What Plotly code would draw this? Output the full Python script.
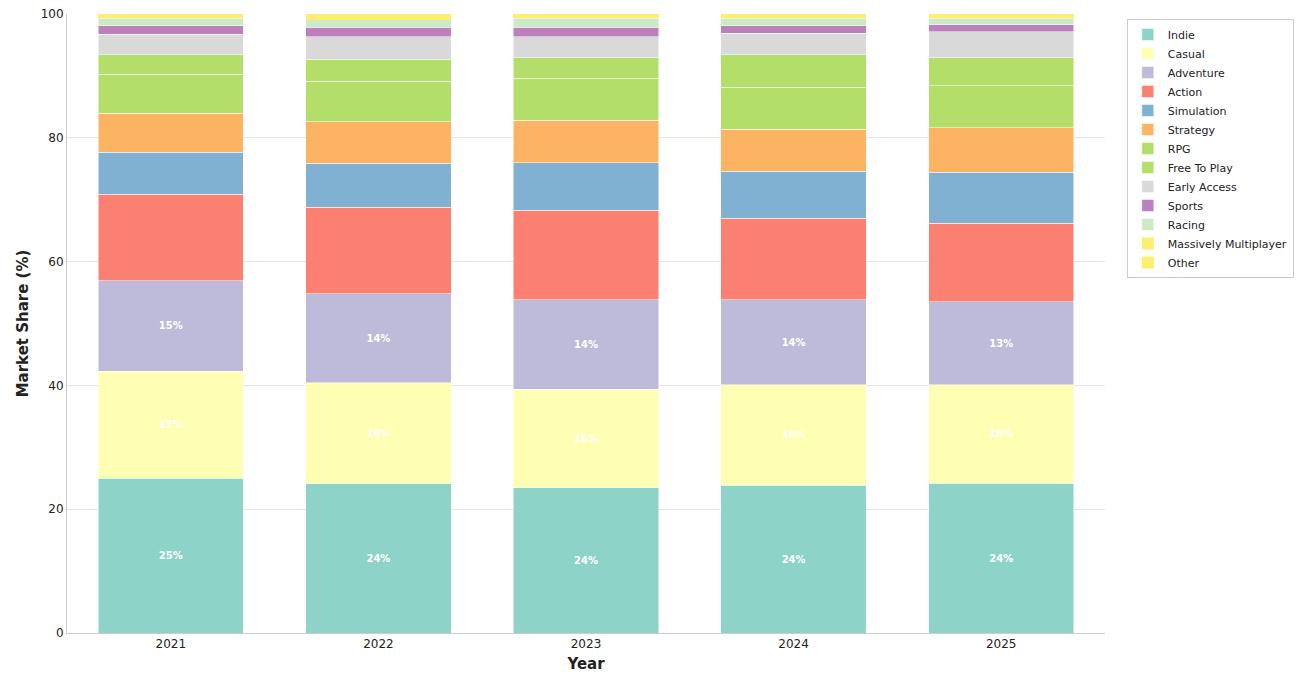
import plotly.graph_objects as go

years = ["2021", "2022", "2023", "2024", "2025"]

genres = ["Indie", "Casual", "Adventure", "Action", "Simulation", "Strategy", "RPG",
          "Free To Play", "Early Access", "Sports", "Racing", "Massively Multiplayer", "Other"]

indie = [25.0, 24.1, 23.5, 23.9, 24.2]
casual = [17.3, 16.3, 15.9, 16.2, 15.9]
adventure = [14.6, 14.4, 14.4, 13.7, 13.4]
action = [14.0, 14.0, 14.5, 13.2, 12.7]
simulation = [6.8, 7.1, 7.7, 7.6, 8.2]
strategy = [6.3, 6.7, 6.8, 6.8, 7.2]
rpg = [6.3, 6.5, 6.8, 6.8, 6.8]
free_to_play = [3.1, 3.6, 3.3, 5.2, 4.5]
early_access = [3.3, 3.6, 3.4, 3.5, 4.2]
sports = [1.4, 1.6, 1.6, 1.2, 1.2]
racing = [1.25, 1.2, 1.45, 1.25, 1.05]
mmo = [0.45, 0.5, 0.45, 0.45, 0.45]
other = [0.2, 0.4, 0.2, 0.2, 0.2]

series = [indie, casual, adventure, action, simulation, strategy, rpg,
          free_to_play, early_access, sports, racing, mmo, other]

colors = ["#8dd3c7", "#ffffb3", "#bebada", "#fb8072", "#80b1d3", "#fdb462", "#b3de69",
          "#b3de69", "#d9d9d9", "#bc80bd", "#ccebc5", "#ffed6f", "#ffed6f"]

# only the three biggest genres get a percentage label
labelled = {"Indie", "Casual", "Adventure"}

fig = go.Figure()
for name, vals, col in zip(genres, series, colors):
    text = [f"<b>{v:.0f}%</b>" for v in vals] if name in labelled else None
    # the two thin yellow slivers on top read as one band, so no white seam there
    edge = dict(color=col, width=0) if col == "#ffed6f" else dict(color="white", width=0.5)
    fig.add_trace(go.Bar(
        x=years, y=vals, name=name,
        marker=dict(color=col, line=edge),
        text=text, textposition="inside", insidetextanchor="middle",
        textfont=dict(color="white", size=10, family="DejaVu Sans"),
        textangle=0,
    ))

# page body has an 8px margin, so the figure is a bit smaller than the window
fig.update_layout(
    barmode="stack",
    bargap=0.3,
    width=1294, height=678,
    margin=dict(l=59, r=197, t=6, b=53),
    paper_bgcolor="white", plot_bgcolor="white",
    font=dict(family="DejaVu Sans", size=12, color="#222"),
    uniformtext=dict(minsize=8, mode="show"),
    legend=dict(
        traceorder="normal", x=1.021, y=0.992, xanchor="left", yanchor="top",
        bordercolor="#cccccc", borderwidth=1, font=dict(size=11),
        itemwidth=30, tracegroupgap=0,
    ),
    xaxis=dict(
        title=dict(text="<b>Year</b>", font=dict(size=15), standoff=8),
        showline=True, linecolor="#cccccc", linewidth=1, automargin=False,
        ticks="", showgrid=False, range=[-0.5, 4.5],
    ),
    yaxis=dict(
        title=dict(text="<b>Market Share (%)</b>", font=dict(size=15), standoff=8),
        range=[0, 100], dtick=20, automargin=False, ticklabeloverflow="allow",
        showline=True, linecolor="#cccccc", linewidth=1,
        showgrid=True, gridcolor="#e5e5e5", zeroline=False, ticks="",
    ),
)

fig.write_html("out.html")
